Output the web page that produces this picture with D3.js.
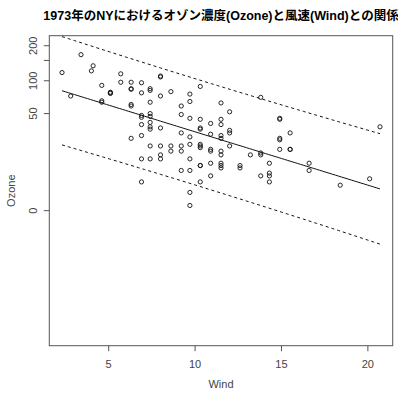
<!DOCTYPE html>
<html>
<head>
<meta charset="utf-8">
<script src="https://cdn.jsdelivr.net/npm/d3@7"></script>
<style>
  html, body { margin: 0; padding: 0; background: #fff; }
  svg { display: block; }
</style>
</head>
<body>
<div id="chart"></div>
<script>
// airquality (New York, May–Sep 1973), rows with a recorded Ozone value
const wind = [7.4, 8.0, 12.6, 11.5, 14.9, 8.6, 13.8, 20.1, 6.9, 9.7, 9.2, 10.9, 13.2, 11.5, 12.0, 18.4, 11.5, 9.7, 9.7, 16.6,
  9.7, 12.0, 12.0, 14.9, 5.7, 7.4, 9.7, 13.8, 11.5, 8.0, 14.9, 20.7, 9.2, 11.5, 10.3, 4.1, 9.2, 9.2, 4.6, 10.9,
  5.1, 6.3, 5.7, 7.4, 14.3, 14.9, 14.3, 6.9, 10.3, 6.3, 5.1, 11.5, 6.9, 8.6, 8.0, 8.6, 12.0, 7.4, 7.4, 7.4,
  9.2, 6.9, 13.8, 7.4, 6.9, 7.4, 4.6, 4.0, 10.3, 8.0, 11.5, 11.5, 9.7, 10.3, 6.3, 7.4, 10.9, 10.3, 15.5, 14.3,
  9.7, 3.4, 8.0, 9.7, 2.3, 6.3, 6.3, 6.9, 5.1, 2.8, 4.6, 7.4, 15.5, 10.9, 10.3, 10.9, 9.7, 14.9, 15.5, 6.3,
  10.9, 11.5, 6.9, 13.8, 10.3, 10.3, 8.0, 12.6, 9.2, 10.3, 10.3, 16.6, 6.9, 14.3, 8.0, 11.5];
const ozone = [41, 36, 12, 18, 28, 23, 19, 8, 7, 16, 11, 14, 18, 14, 34, 6, 30, 11, 1, 11,
  4, 32, 23, 45, 115, 37, 29, 71, 39, 23, 21, 37, 20, 12, 13, 135, 49, 32, 64, 40,
  77, 97, 97, 85, 10, 27, 7, 48, 35, 61, 79, 63, 16, 80, 108, 20, 52, 82, 50, 64,
  59, 39, 9, 16, 78, 35, 66, 122, 89, 110, 44, 28, 65, 22, 59, 23, 31, 44, 21, 9,
  45, 168, 73, 76, 118, 84, 85, 96, 78, 73, 91, 47, 32, 20, 23, 21, 24, 44, 21, 28,
  9, 13, 46, 18, 13, 24, 16, 13, 23, 36, 7, 14, 30, 14, 18, 20];

// y axis tick values (in Ozone units) and x axis ticks
const yTicks = [0, 50, 100, 150, 200];
const yTickLabels = ["0", "50", "100", "", "200"];
const xTicks = [5, 10, 15, 20];
// plotting window on the transformed scale, log(Ozone + 10)
const yLimits = [-0.19, 5.532];
const ozoneOffset = 10;
const tCrit = 1.981;   // t(0.975, df = 114)

const W = 398, H = 393;
const plot = { left: 49.3, right: 392.7, top: 35.7, bottom: 345.7 };
const f = v => Math.log(v + ozoneOffset);

const svg = d3.select("#chart").append("svg")
  .attr("width", W).attr("height", H)
  .style("font-family", "'Liberation Sans', Arial, sans-serif");

const [wMin, wMax] = d3.extent(wind);
const pad = (wMax - wMin) * 0.04;
const x = d3.scaleLinear().domain([wMin - pad, wMax + pad]).range([plot.left, plot.right]);
const y = d3.scaleLinear().domain(yLimits).range([plot.bottom, plot.top]);

// least-squares fit of log(Ozone + 10) on Wind, with 95% prediction band
const ty = ozone.map(f);
const n = wind.length;
const mx = d3.mean(wind), my = d3.mean(ty);
const sxx = d3.sum(wind, w => (w - mx) ** 2);
const sxy = d3.sum(wind, (w, i) => (w - mx) * (ty[i] - my));
const b1 = sxy / sxx, b0 = my - b1 * mx;
const sse = d3.sum(wind, (w, i) => (ty[i] - b0 - b1 * w) ** 2);
const s = Math.sqrt(sse / (n - 2));
const grid = d3.range(0, 101).map(k => wMin + (wMax - wMin) * k / 100);
const band = grid.map(w => {
  const fit = b0 + b1 * w;
  const h = tCrit * s * Math.sqrt(1 + 1 / n + (w - mx) ** 2 / sxx);
  return { w, fit, lwr: fit - h, upr: fit + h };
});

svg.append("defs").append("clipPath").attr("id", "clip")
  .append("rect")
  .attr("x", plot.left).attr("y", plot.top)
  .attr("width", plot.right - plot.left).attr("height", plot.bottom - plot.top);

const g = svg.append("g").attr("clip-path", "url(#clip)");

g.selectAll("circle").data(wind).join("circle")
  .attr("cx", d => x(d))
  .attr("cy", (d, i) => y(ty[i]))
  .attr("r", 2.1)
  .attr("fill", "none")
  .attr("stroke", "#111")
  .attr("stroke-width", 0.9);

const line = key => d3.line().x(d => x(d.w)).y(d => y(d[key]));
g.append("path").datum(band).attr("d", line("fit"))
  .attr("fill", "none").attr("stroke", "#111").attr("stroke-width", 1);
["lwr", "upr"].forEach(k => {
  g.append("path").datum(band).attr("d", line(k))
    .attr("fill", "none").attr("stroke", "#111").attr("stroke-width", 1)
    .attr("stroke-dasharray", "3,3");
});

// frame
svg.append("rect")
  .attr("x", plot.left).attr("y", plot.top)
  .attr("width", plot.right - plot.left).attr("height", plot.bottom - plot.top)
  .attr("fill", "none").attr("stroke", "#555").attr("stroke-width", 1);

const axisColor = "#555", textColor = "#444";

// x axis
const xg = svg.append("g");
xg.selectAll("line").data(xTicks).join("line")
  .attr("x1", d => x(d)).attr("x2", d => x(d))
  .attr("y1", plot.bottom).attr("y2", plot.bottom + 5.5)
  .attr("stroke", axisColor);
xg.selectAll("text").data(xTicks).join("text")
  .attr("x", d => x(d)).attr("y", 368)
  .attr("text-anchor", "middle")
  .attr("font-size", 11).attr("fill", textColor)
  .text(d => d);

// y axis
const yg = svg.append("g");
yg.selectAll("line").data(yTicks).join("line")
  .attr("x1", plot.left - 5.5).attr("x2", plot.left)
  .attr("y1", d => y(f(d))).attr("y2", d => y(f(d)))
  .attr("stroke", axisColor);
yg.selectAll("text").data(yTicks).join("text")
  .attr("transform", d => `translate(36.5,${y(f(d))}) rotate(-90)`)
  .attr("text-anchor", "middle")
  .attr("font-size", 11).attr("fill", textColor)
  .text((d, i) => yTickLabels[i]);

// axis titles
svg.append("text")
  .attr("x", (plot.left + plot.right) / 2).attr("y", 388)
  .attr("text-anchor", "middle").attr("font-size", 11).attr("fill", textColor)
  .text("Wind");
svg.append("text")
  .attr("transform", `translate(15,${(plot.top + plot.bottom) / 2}) rotate(-90)`)
  .attr("text-anchor", "middle").attr("font-size", 11).attr("fill", textColor)
  .text("Ozone");

// title
svg.append("text")
  .attr("x", (plot.left + plot.right) / 2).attr("y", 19.5)
  .attr("text-anchor", "middle")
  .attr("font-size", 12.5).attr("font-weight", "bold").attr("fill", "#000")
  .style("font-family", "'Liberation Sans', Arial, 'Noto Sans CJK JP', sans-serif")
  .text("1973年のNYにおけるオゾン濃度(Ozone)と風速(Wind)との関係");
</script>
</body>
</html>
